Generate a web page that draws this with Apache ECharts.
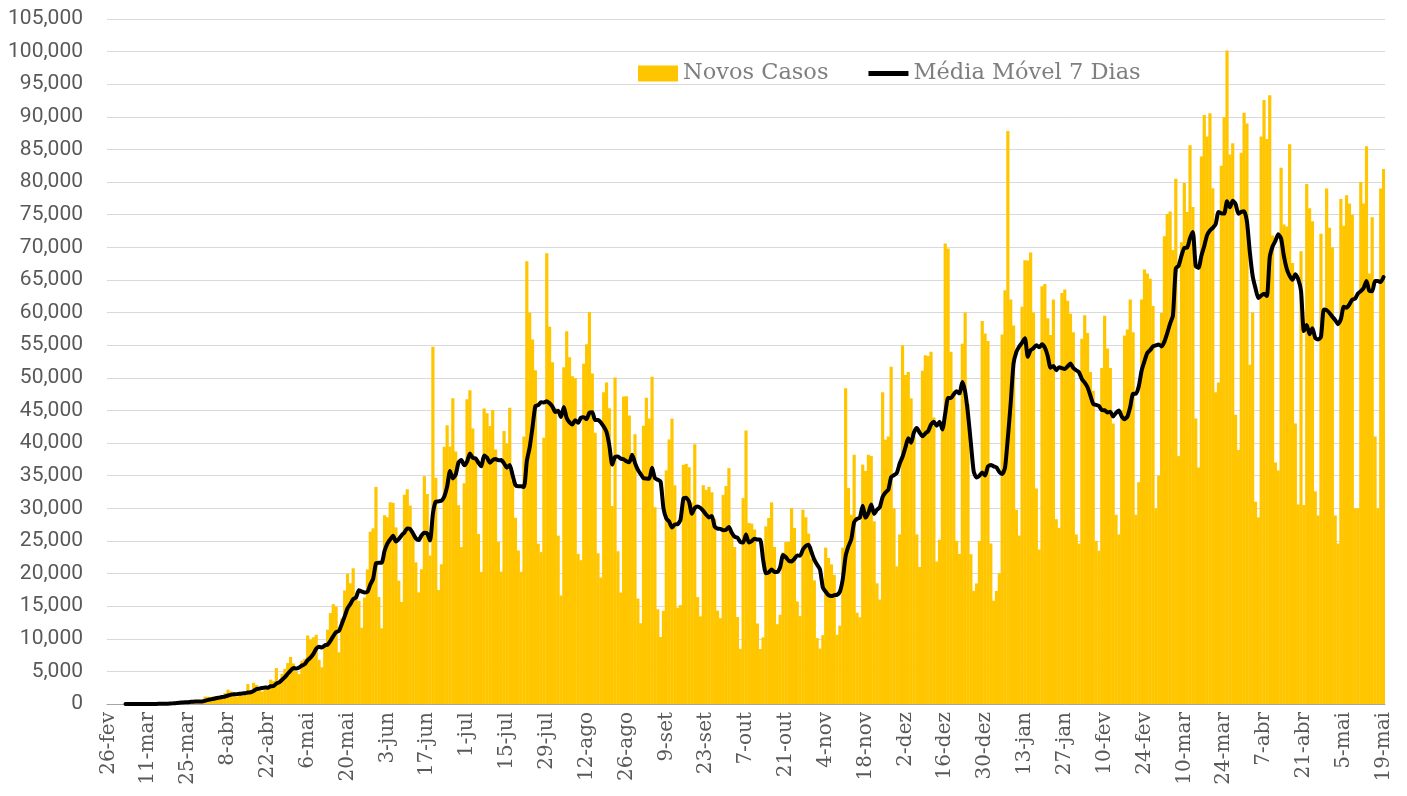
<!DOCTYPE html>
<html>
<head>
<meta charset="utf-8">
<script src="https://cdn.jsdelivr.net/npm/echarts@6/dist/echarts.min.js"></script>
<style>
html, body { margin: 0; padding: 0; background: #fff; }
#chart { width: 1407px; height: 796px; }
</style>
</head>
<body>
<div id="chart"></div>
<script>
// novos casos diarios, por mes (26-fev-2020 a 19-mai-2021)
var casos2020Fev = [1, 0, 0, 1]
var casos2020Mar = [0, 0, 0, 1, 5, 5, 6, 7, 5, 9, 18, 25, 21, 23, 79, 34, 57, 137, 193, 283, 224, 418, 345, 310, 232, 482, 502, 487, 352, 323, 1138]
var casos2020Abr = [1119, 1074, 1146, 1222, 852, 926, 1661, 2210, 1930, 1781, 1089, 1442, 1261, 1832, 3058, 2105, 3257, 2917, 2055, 1927, 2498, 2678, 3735, 3503, 5514, 3379, 4613, 5385, 6276, 7218]
var casos2020Mai = [6209, 4970, 4588, 6633, 6935, 10503, 9888, 10222, 10611, 6760, 5632, 9258, 11385, 13944, 15305, 14919, 7938, 13140, 17408, 19951, 18508, 20803, 16508, 15813, 11687, 16324, 20599, 26417, 26928, 33274, 16409]
var casos2020Jun = [11598, 28936, 28633, 30925, 30830, 27075, 18912, 15654, 32091, 32913, 30412, 25982, 21704, 17110, 20647, 34918, 32188, 22765, 54771, 34666, 17459, 21432, 39436, 42725, 39483, 46860, 38693, 30476, 24052, 33846]
var casos2020Jul = [46712, 48105, 42223, 37923, 26051, 20229, 45305, 44571, 42619, 45048, 39023, 24831, 20286, 41857, 39924, 45403, 34177, 28532, 23529, 20257, 41008, 67860, 59961, 55891, 51147, 24578, 23284, 40816, 69074, 57837, 52383]
var casos2020Ago = [45392, 25800, 16641, 51603, 57152, 53139, 50230, 49970, 23010, 22048, 52160, 55155, 60091, 50644, 41576, 23101, 19373, 47784, 49298, 45323, 30355, 50032, 23421, 17078, 47134, 47161, 44235, 38304, 41350, 16158, 12386]
var casos2020Set = [42659, 46934, 43773, 50163, 30168, 14521, 10273, 14279, 35816, 40557, 43718, 33523, 14768, 15155, 36653, 36820, 36303, 30913, 39797, 16389, 13439, 33536, 32817, 33281, 32445, 28378, 14318, 13155, 32058, 33413]
var casos2020Out = [36157, 26310, 24062, 13332, 8456, 31553, 41906, 27750, 27651, 26749, 12342, 8429, 10220, 27235, 28523, 30914, 24062, 12236, 13673, 23227, 24818, 24858, 30026, 26979, 15726, 13493, 29787, 28629, 26106, 22282, 18947]
var casos2020Nov = [10100, 8501, 10554, 23976, 22380, 21400, 19800, 10600, 12000, 23973, 48400, 33100, 29000, 38200, 14000, 13300, 36700, 35700, 38200, 38000, 28000, 18500, 16000, 47800, 40500, 41000, 51700, 30000, 21100, 26000]
var casos2020Dez = [55000, 50434, 50882, 46884, 41000, 26000, 21000, 51088, 53453, 53347, 54000, 43900, 21825, 25193, 42889, 70574, 69826, 54000, 48000, 25019, 23000, 55202, 60000, 46000, 22967, 17341, 18479, 25000, 58718, 56773, 55649]
var casos2021Jan = [24605, 15827, 17341, 20006, 56648, 63430, 87843, 62000, 58000, 29792, 25822, 60899, 68010, 68000, 69198, 60000, 33040, 23671, 64025, 64385, 59119, 56552, 62000, 28323, 27000, 63000, 63520, 61811, 59826, 57000, 26000]
var casos2021Fev = [24591, 56000, 59602, 56873, 50872, 48000, 25000, 23500, 51500, 59500, 54500, 51500, 43000, 29000, 26000, 45000, 56500, 57400, 62000, 57000, 29000, 34000, 62000, 66588, 65998, 65169, 61000, 30000]
var casos2021Mar = [35000, 59925, 71704, 75102, 75495, 69609, 80508, 38000, 70764, 79876, 75412, 85663, 76178, 43781, 36239, 83926, 90303, 86982, 90570, 79069, 47774, 49293, 82493, 89992, 100158, 84245, 85948, 44326, 38927, 84494, 90638]
var casos2021Abr = [89000, 52000, 60000, 31000, 28600, 87000, 92600, 86600, 93300, 71800, 37000, 35800, 82200, 73500, 73200, 85800, 67600, 43000, 30600, 69400, 30500, 79700, 76000, 74000, 32600, 28900, 72100, 60000, 79000, 73000]
var casos2021Mai = [70000, 28900, 24600, 77400, 73300, 78000, 76700, 75000, 30000, 30000, 80000, 76700, 85500, 66000, 74600, 41000, 30000, 79000, 82000]

var novosCasos = [].concat(casos2020Fev, casos2020Mar, casos2020Abr, casos2020Mai, casos2020Jun,
	casos2020Jul, casos2020Ago, casos2020Set, casos2020Out, casos2020Nov, casos2020Dez,
	casos2021Jan, casos2021Fev, casos2021Mar, casos2021Abr, casos2021Mai)

var meses = ['jan', 'fev', 'mar', 'abr', 'mai', 'jun', 'jul', 'ago', 'set', 'out', 'nov', 'dez']

// rotulos do eixo x: um por dia a partir de 26-fev-2020
var datas = []
for (var i = 0; i < novosCasos.length; i++) {
	var d = new Date(Date.UTC(2020, 1, 26 + i))
	datas.push(d.getUTCDate() + '-' + meses[d.getUTCMonth()])
}

// media movel de 7 dias (janela que termina no dia)
var mediaMovel = novosCasos.map(function (v, i) {
	if (i < 6) return null
	var soma = 0
	for (var k = i - 6; k <= i; k++) soma += novosCasos[k]
	return Math.round(soma / 7)
})

var slab = '"DejaVu Serif", serif'

var myChart = echarts.init(document.getElementById('chart'))
var option = {
	animation: false,
	backgroundColor: '#ffffff',
	legend: {
		left: 638,
		top: 62,
		padding: 0,
		itemWidth: 40,
		itemHeight: 16,
		itemGap: 40,
		textStyle: {
			fontFamily: slab,
			fontSize: 22.5,
			color: '#7f7f7f'
		},
		data: [
			{ name: 'Novos Casos', icon: 'rect' },
			{ name: 'Média Móvel 7 Dias', icon: 'path://M0,0H42V5H0Z' }
		]
	},
	grid: {
		left: 107,
		right: 22,
		top: 19,
		bottom: 92,
		containLabel: false
	},
	xAxis: {
		type: 'category',
		data: datas,
		boundaryGap: true,
		axisLine: {
			lineStyle: { color: '#a6a6a6', width: 1 }
		},
		axisTick: {
			interval: 13,
			length: 6,
			lineStyle: { color: '#a6a6a6' }
		},
		axisLabel: {
			interval: 13,
			rotate: 90,
			margin: 8,
			fontFamily: slab,
			fontSize: 20,
			color: '#595959'
		},
		splitLine: { show: false }
	},
	yAxis: {
		type: 'value',
		min: 0,
		max: 105000,
		interval: 5000,
		axisLine: { show: false },
		axisTick: { show: false },
		axisLabel: {
			margin: 24,
			fontFamily: 'Roboto, sans-serif',
			fontSize: 21,
			color: '#595959',
			formatter: function (value) {
				return value.toLocaleString('en-US')
			}
		},
		splitLine: {
			lineStyle: { color: '#d9d9d9', width: 1 }
		}
	},
	series: [{
		name: 'Novos Casos',
		type: 'bar',
		data: novosCasos,
		barWidth: 3.2,
		itemStyle: { color: '#FFC600' }
	}, {
		name: 'Média Móvel 7 Dias',
		type: 'line',
		data: mediaMovel,
		symbol: 'none',
		smooth: 0.2,
		lineStyle: { color: '#000000', width: 4, join: 'round', cap: 'round' },
		itemStyle: { color: '#000000' }
	}]
}
myChart.setOption(option)
</script>
</body>
</html>
